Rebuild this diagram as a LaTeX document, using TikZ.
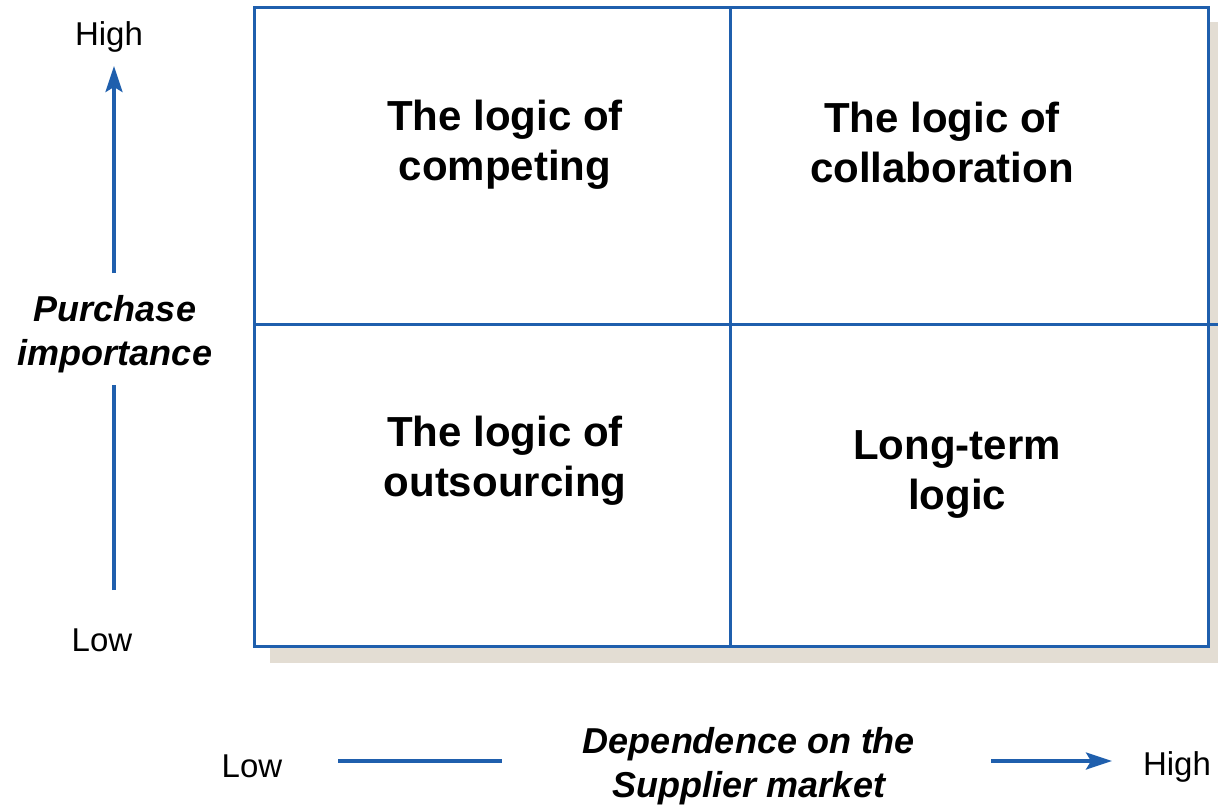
\documentclass[tikz,border=0pt]{standalone}
\usepackage{fontspec}
\setmainfont{Liberation Sans}
\usetikzlibrary{arrows.meta}
\definecolor{lineblue}{HTML}{1F5FAD}
\definecolor{shadowc}{HTML}{E3DDD3}
\tikzset{
  quad/.style={font=\fontsize{42}{50}\selectfont\bfseries, align=center, text=black},
  axislab/.style={font=\fontsize{33}{40}\selectfont, text=black},
  axistitle/.style={font=\fontsize{36}{44}\selectfont\bfseries\itshape, align=center, text=black},
  gridline/.style={draw=lineblue, line width=3pt},
  axisline/.style={draw=lineblue, line width=3.6pt},
  axisarrow/.style={axisline, -{Stealth[length=26pt,width=17pt,inset=5pt]}}
}
\begin{document}
\begin{tikzpicture}[x=1pt,y=-1pt]
\useasboundingbox (0,0) rectangle (1218,806);
% shadow
\fill[shadowc] (270,22) rectangle (1222,663);
% matrix box
\filldraw[fill=white, gridline] (254,7) rectangle (1208,646);
\draw[gridline] (730,7) -- (730,646);
\draw[gridline] (254,324) -- (1222,324);
% quadrant texts
\node[quad] (q1) at (505,145) {The logic of\\competing};
\node[quad] (q2) at (942,142) {The logic of\\collaboration};
\node[quad] (q3) at (505,461) {The logic of\\outsourcing};
\node[quad] (q4) at (957,474) {Long-term\\logic};
% vertical axis
\node[axislab] (yhigh) at (109,37) {High};
\node[axislab] (ylow) at (102,640) {Low};
\node[axistitle] (ytitle) at (115,334) {Purchase\\importance};
\coordinate (yb0) at (114,590);
\coordinate (yb1) at (114,385);
\coordinate (yt0) at (114,273);
\coordinate (yt1) at (114,66);
\draw[axisline] (yb0) -- (yb1);
\draw[axisarrow] (yt0) -- (yt1);
% horizontal axis
\node[axislab] (xlow) at (252,766) {Low};
\node[axislab] (xhigh) at (1177,767) {High};
\node[axistitle] (xtitle) at (749,766) {Dependence on the\\Supplier market};
\coordinate (xl0) at (338,761);
\coordinate (xl1) at (502,761);
\coordinate (xr0) at (991,761);
\coordinate (xr1) at (1112,761);
\draw[axisline] (xl0) -- (xl1);
\draw[axisarrow] (xr0) -- (xr1);
\end{tikzpicture}
\end{document}
